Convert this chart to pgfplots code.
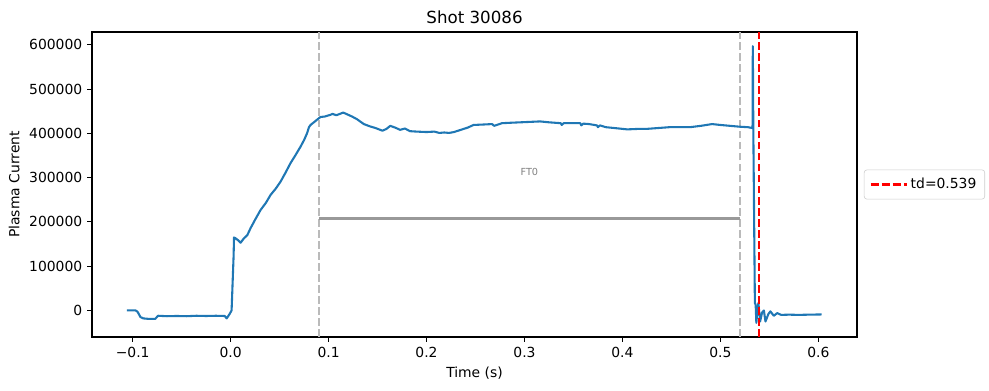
\documentclass[border=0pt]{standalone}
\usepackage{pgfplots}
\pgfplotsset{compat=1.18}
\usepackage{fontspec}
\setmainfont{DejaVu Sans}
\definecolor{mplblue}{HTML}{1F77B4}
\begin{document}
\fontsize{10}{12}\selectfont
\begin{tikzpicture}
\useasboundingbox (-66.24pt,-38.16pt) rectangle (645.8pt,242.64pt);
\begin{axis}[
  scale only axis,
  width=550.8pt, height=219.6pt,
  xmin=-0.1415, xmax=0.6395,
  ymin=-60000, ymax=629000,
  xtick={-0.1,0,0.1,0.2,0.3,0.4,0.5,0.6},
  xticklabels={−0.1,0.0,0.1,0.2,0.3,0.4,0.5,0.6},
  ytick={0,100000,200000,300000,400000,500000,600000},
  yticklabels={0,100000,200000,300000,400000,500000,600000},
  scaled y ticks=false, scaled x ticks=false,
  tick align=outside, major tick length=3.5pt,
  xtick pos=bottom, ytick pos=left,
  tick style={black, line width=0.8pt},
  axis line style={line width=0.8pt},
  ticklabel style={font=\fontsize{10}{12}\selectfont},
  /pgf/number format/assume math mode=true,
  title={Shot 30086},
  title style={font=\fontsize{12}{14}\selectfont, yshift=-3.5pt},
  xlabel={Time (s)},
  ylabel={Plasma Current},
  label style={font=\fontsize{10}{12}\selectfont},
  legend style={at={(1.009,0.5)}, anchor=west, draw=black!20, rounded corners=2pt,
    font=\fontsize{10}{12}\selectfont, inner xsep=4pt, inner ysep=4pt},
  legend cell align=left,
  legend image code/.code={\draw[#1] (0pt,0pt) -- (20pt,0pt); \path (0pt,0pt) -- (26pt,0pt);},
]
\addplot[black!27, dashed, line width=1.5pt, dash pattern=on 5.55pt off 2.4pt, forget plot] coordinates {(0.09,-60000) (0.09,629000)};
\addplot[black!27, dashed, line width=1.5pt, dash pattern=on 5.55pt off 2.4pt, forget plot] coordinates {(0.52,-60000) (0.52,629000)};
\addplot[black!40, line width=2pt, forget plot] coordinates {(0.09,208000) (0.52,208000)};
\node[text=black!50, font=\fontsize{7}{8}\selectfont] at (axis cs:0.305,312000) {FT0};
\addplot[mplblue, line width=1.5pt, line join=round, forget plot] coordinates {
(-0.106,0) (-0.097,0) (-0.095,-3000) (-0.092,-15000) (-0.089,-18000) (-0.084,-19000)
(-0.077,-19000) (-0.074,-12000) (-0.065,-13000) (-0.055,-12500) (-0.045,-13000)
(-0.035,-12000) (-0.025,-12500) (-0.015,-12000) (-0.006,-12500) (-0.004,-18000)
(-0.001,-8000) (0.001,0) (0.002,60000) (0.003,120000) (0.0035,165000) (0.005,163000)
(0.008,158000) (0.0102,153000) (0.0136,163000) (0.017,170000) (0.0204,186000)
(0.025,205000) (0.0306,227000) (0.036,243000) (0.0408,261000) (0.046,275000)
(0.051,291000) (0.056,311000) (0.0612,333000) (0.066,350000) (0.0714,370000)
(0.075,385000) (0.078,400000) (0.080,414000) (0.0816,419000) (0.085,425000)
(0.090,434000) (0.0918,437000) (0.096,438000) (0.102,442000) (0.104,444000)
(0.108,441000) (0.115,447000) (0.120,442000) (0.124,438000) (0.129,432000)
(0.136,421000) (0.142,416000) (0.148,412000) (0.155,406000) (0.159,410000)
(0.163,417000) (0.168,413000) (0.173,408000) (0.178,411000) (0.183,405000)
(0.190,404000) (0.200,403000) (0.208,404000) (0.213,401000) (0.218,402000)
(0.223,401000) (0.228,403000) (0.235,408000) (0.242,413000) (0.248,419000)
(0.258,420000) (0.267,421000) (0.269,417000) (0.277,423000) (0.286,424000)
(0.296,425000) (0.306,426000) (0.316,427000) (0.325,425000) (0.337,423000)
(0.338,419000) (0.340,423000) (0.347,423000) (0.357,423000) (0.358,418000)
(0.360,422000) (0.366,421000) (0.374,418000) (0.375,414000) (0.377,418000)
(0.383,414000) (0.392,412000) (0.405,409000) (0.415,410000) (0.424,410000)
(0.436,412000) (0.448,414000) (0.458,414000) (0.469,414000) (0.480,417000)
(0.4915,421000) (0.500,419000) (0.510,417000) (0.520,415000) (0.528,414000)
(0.5328,412000) (0.5331,597000) (0.5336,410000) (0.5352,17000) (0.536,13000)
(0.5367,-28000) (0.538,5000) (0.5388,17000) (0.5405,-25000) (0.5425,-5000)
(0.5444,0) (0.546,-25000) (0.549,-8000) (0.551,-2000) (0.5545,-12000)
(0.558,-6000) (0.562,-10000) (0.570,-9500) (0.580,-10000) (0.590,-9500) (0.6034,-9000)
};
\addplot[red, line width=1.5pt, dash pattern=on 5.55pt off 2.4pt] coordinates {(0.539,-60000) (0.539,629000)};
\addlegendentry{td=0.539}
\end{axis}
\end{tikzpicture}
\end{document}
